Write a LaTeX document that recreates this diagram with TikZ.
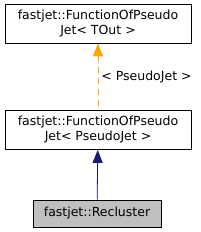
\documentclass[tikz,border=0pt]{standalone}
\usepackage{fontspec}
\setmainfont{DejaVu Sans}
\usetikzlibrary{positioning,arrows.meta}
\definecolor{inherit}{HTML}{191970}
\definecolor{tmpl}{HTML}{FFA500}
\definecolor{current}{HTML}{BFBFBF}

\begin{document}
\begin{tikzpicture}[
  x=1pt, y=1pt,
  font=\fontsize{12.5}{15}\selectfont,
  cls/.style={draw=black, line width=0.8pt, align=center, inner sep=0pt, minimum width=186pt, minimum height=39pt, fill=white},
  self/.style={cls, fill=current, minimum width=128pt, minimum height=27pt},
  isa/.style={{Triangle[length=13pt,width=10pt]}-, line width=0.8pt, draw=inherit, fill=inherit},
  inst/.style={{Triangle[length=13pt,width=10pt]}-, line width=0.8pt, draw=tmpl, fill=tmpl, dash pattern=on 6pt off 5pt},
  lbl/.style={anchor=west, inner sep=0pt}
]
  \useasboundingbox (0,0) rectangle (200,232);
  \node[cls]  (fop)  at (98,208.5) {fastjet::FunctionOfPseudo\\Jet< TOut >};
  \node[cls]  (fopj) at (98,102)   {fastjet::FunctionOfPseudo\\Jet< PseudoJet >};
  \node[self] (recl) at (97,18.5)  {fastjet::Recluster};
  \draw[inst] (fop) -- node[lbl, right=3pt]{< PseudoJet >} (fopj);
  \draw[isa] (fopj) -- (recl);
\end{tikzpicture}
\end{document}
